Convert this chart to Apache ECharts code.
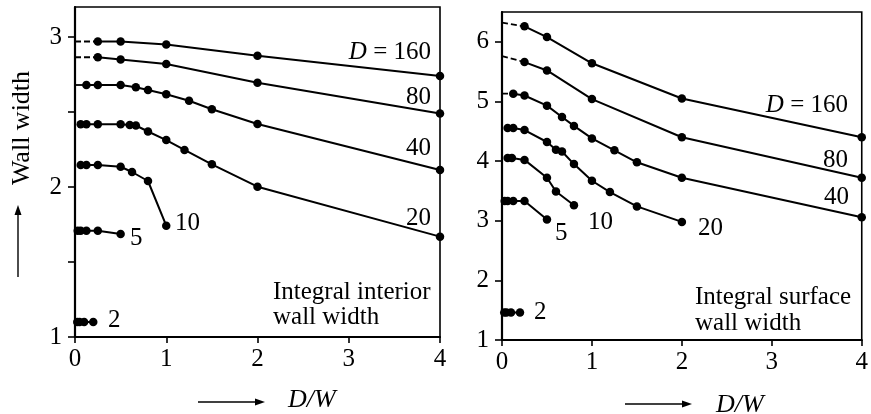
<!DOCTYPE html>
<html>
<head>
<meta charset="utf-8">
<script src="https://cdn.jsdelivr.net/npm/echarts@6/dist/echarts.min.js"></script>
<style>
  html, body { margin: 0; padding: 0; background: #fff; }
  #chart { width: 871px; height: 414px; }
</style>
</head>
<body>
<div id="chart"></div>
<script>
// ---- data: [D/W, wall width] ----
// left panel: integral interior wall width
const intD160 = [[0.25, 2.97], [0.5, 2.97], [1, 2.95], [2, 2.875], [4, 2.74]];
const intD160Ext = [[0, 2.97], [0.25, 2.97]];
const intD80 = [[0.25, 2.865], [0.5, 2.85], [1, 2.82], [2, 2.695], [4, 2.49]];
const intD80Ext = [[0, 2.865], [0.25, 2.865]];
const intD40 = [[0.125, 2.68], [0.25, 2.68], [0.5, 2.68], [0.667, 2.665], [0.8, 2.647], [1, 2.618],
  [1.25, 2.575], [1.5, 2.518], [2, 2.42], [4, 2.113]];
const intD40Ext = [[0, 2.68], [0.125, 2.68]];
const intD20 = [[0.0625, 2.418], [0.125, 2.418], [0.25, 2.418], [0.5, 2.418], [0.6, 2.413], [0.667, 2.41],
  [0.8, 2.37], [1, 2.313], [1.2, 2.247], [1.5, 2.151], [2, 2.002], [4, 1.669]];
const intD10 = [[0.0625, 2.147], [0.125, 2.147], [0.25, 2.147], [0.5, 2.135], [0.625, 2.1], [0.8, 2.04], [1, 1.742]];
const intD5 = [[0.03, 1.709], [0.0625, 1.709], [0.125, 1.709], [0.25, 1.709], [0.5, 1.687]];
const intD2 = [[0.025, 1.1], [0.05, 1.1], [0.1, 1.1], [0.2, 1.1]];

// right panel: integral surface wall width
const surfD160 = [[0.25, 6.26], [0.5, 6.08], [1, 5.64], [2, 5.05], [4, 4.40]];
const surfD160Ext = [[0, 6.32], [0.25, 6.26]];
const surfD80 = [[0.25, 5.66], [0.5, 5.52], [1, 5.04], [2, 4.40], [4, 3.72]];
const surfD80Ext = [[0, 5.76], [0.25, 5.66]];
const surfD40 = [[0.125, 5.13], [0.25, 5.10], [0.5, 4.93], [0.667, 4.74], [0.8, 4.59], [1, 4.38],
  [1.25, 4.18], [1.5, 3.98], [2, 3.72], [4, 3.06]];
const surfD40Ext = [[0, 5.13], [0.125, 5.13]];
const surfD20 = [[0.0625, 4.555], [0.125, 4.555], [0.25, 4.52], [0.5, 4.32], [0.6, 4.19], [0.667, 4.16],
  [0.8, 3.95], [1, 3.67], [1.2, 3.48], [1.5, 3.24], [2, 2.98]];
const surfD10 = [[0.0625, 4.05], [0.11, 4.05], [0.25, 4.02], [0.5, 3.72], [0.6, 3.49], [0.8, 3.26]];
const surfD5 = [[0.03, 3.33], [0.0625, 3.33], [0.125, 3.33], [0.25, 3.33], [0.5, 3.02]];
const surfD2 = [[0.025, 1.46], [0.05, 1.46], [0.1, 1.46], [0.2, 1.46]];

// ticks
const xTicks = [0, 1, 2, 3, 4];
const leftYTicks = [1, 1.5, 2, 2.5, 3];
const leftYLabels = [1, 2, 3];
const rightYTicks = [1, 2, 3, 4, 5, 6];

const SERIF = '"Liberation Serif", "DejaVu Serif", serif';

const chart = echarts.init(document.getElementById('chart'));

const xAxisBase = (gridIndex) => ({
  type: 'value', gridIndex, min: 0, max: 4,
  axisLine: { show: true, onZero: false, lineStyle: { color: '#000', width: 2.2 } },
  axisTick: { show: true, length: 6, lineStyle: { color: '#000', width: 1.6 }, customValues: xTicks },
  axisLabel: { color: '#000', fontSize: 25, fontFamily: SERIF, margin: 10, customValues: xTicks },
  splitLine: { show: false }
});

const yAxisBase = (gridIndex, min, max, ticks, labels) => ({
  type: 'value', gridIndex, min, max,
  axisLine: { show: true, onZero: false, lineStyle: { color: '#000', width: 2.2 } },
  axisTick: { show: true, length: 7, lineStyle: { color: '#000', width: 1.6 }, customValues: ticks },
  axisLabel: { color: '#000', fontSize: 25, fontFamily: SERIF, margin: 13, customValues: labels },
  splitLine: { show: false }
});

// solid line with dots
const dots = (data, idx) => ({
  type: 'line', data, xAxisIndex: idx, yAxisIndex: idx,
  symbol: 'circle', symbolSize: 8.5, showSymbol: true, clip: false,
  lineStyle: { color: '#000', width: 2 },
  itemStyle: { color: '#000' },
  animation: false, silent: true
});

// extension toward D/W = 0, no dots
const ext = (data, idx, dashed) => ({
  type: 'line', data, xAxisIndex: idx, yAxisIndex: idx,
  symbol: 'none', clip: false,
  lineStyle: { color: '#000', width: 1.8, type: dashed ? [6, 3] : 'solid' },
  animation: false, silent: true
});

const txt = (text, x, y, align, size) => ({
  type: 'text', x, y, silent: true,
  style: {
    text, fill: '#000', fontSize: size || 25, fontFamily: SERIF,
    textAlign: align || 'left', textVerticalAlign: 'middle'
  }
});

const dLabel = (x, y) => ({
  type: 'text', x, y, silent: true,
  style: {
    text: '{i|D} = 160', fill: '#000', fontSize: 25, fontFamily: SERIF,
    textAlign: 'right', textVerticalAlign: 'middle',
    rich: { i: { fontStyle: 'italic', fontSize: 25, fontFamily: SERIF, fill: '#000' } }
  }
});

const italic = (text, x, y) => ({
  type: 'text', x, y, silent: true,
  style: {
    text, fill: '#000', fontSize: 26, fontFamily: SERIF, fontStyle: 'italic',
    textAlign: 'left', textVerticalAlign: 'middle'
  }
});

const hArrow = (x1, x2, y) => ([
  { type: 'line', silent: true, shape: { x1, y1: y, x2: x2 - 6, y2: y }, style: { stroke: '#000', lineWidth: 1.4 } },
  { type: 'polygon', silent: true, shape: { points: [[x2, y], [x2 - 10, y - 3.5], [x2 - 10, y + 3.5]] }, style: { fill: '#000' } }
]);

chart.setOption({
  backgroundColor: '#fff',
  animation: false,
  grid: [
    { left: 75, right: 431, top: 7, bottom: 77, show: true, borderColor: '#000', borderWidth: 1.6 },
    { left: 502, right: 4, top: 12, bottom: 74, show: true, borderColor: '#000', borderWidth: 1.6 }
  ],
  xAxis: [xAxisBase(0), xAxisBase(1)],
  yAxis: [
    yAxisBase(0, 1, 3.2, leftYTicks, leftYLabels),
    yAxisBase(1, 1, 6.5, rightYTicks, rightYTicks)
  ],
  series: [
    ext(intD160Ext, 0, true), ext(intD80Ext, 0, true), ext(intD40Ext, 0, false),
    dots(intD160, 0), dots(intD80, 0), dots(intD40, 0), dots(intD20, 0),
    dots(intD10, 0), dots(intD5, 0), dots(intD2, 0),
    ext(surfD160Ext, 1, true), ext(surfD80Ext, 1, true), ext(surfD40Ext, 1, true),
    dots(surfD160, 1), dots(surfD80, 1), dots(surfD40, 1), dots(surfD20, 1),
    dots(surfD10, 1), dots(surfD5, 1), dots(surfD2, 1)
  ],
  graphic: [
    // left panel labels
    dLabel(431, 52),
    txt('80', 431, 97, 'right'),
    txt('40', 431, 148, 'right'),
    txt('20', 431, 218, 'right'),
    txt('10', 175, 223),
    txt('5', 130, 238),
    txt('2', 108, 320),
    txt('Integral interior', 273, 292),
    txt('wall width', 273, 317),
    // right panel labels
    dLabel(848, 105),
    txt('80', 848, 160, 'right'),
    txt('40', 849, 197, 'right'),
    txt('20', 698, 228),
    txt('10', 588, 222),
    txt('5', 555, 233),
    txt('2', 534, 312),
    txt('Integral surface', 695, 297),
    txt('wall width', 695, 323),
    // y axis title and arrow
    {
      type: 'text', x: 22, y: 128, rotation: Math.PI / 2, silent: true,
      style: { text: 'Wall width', fill: '#000', fontSize: 26, fontFamily: SERIF, textAlign: 'center', textVerticalAlign: 'middle' }
    },
    { type: 'line', silent: true, shape: { x1: 18, y1: 277, x2: 18, y2: 213 }, style: { stroke: '#000', lineWidth: 1.4 } },
    { type: 'polygon', silent: true, shape: { points: [[18, 205], [14.5, 215], [21.5, 215]] }, style: { fill: '#000' } },
    // x axis titles
    ...hArrow(198, 265, 402),
    italic('D/W', 288, 400),
    ...hArrow(625, 692, 404),
    italic('D/W', 716, 405)
  ]
});
</script>
</body>
</html>
